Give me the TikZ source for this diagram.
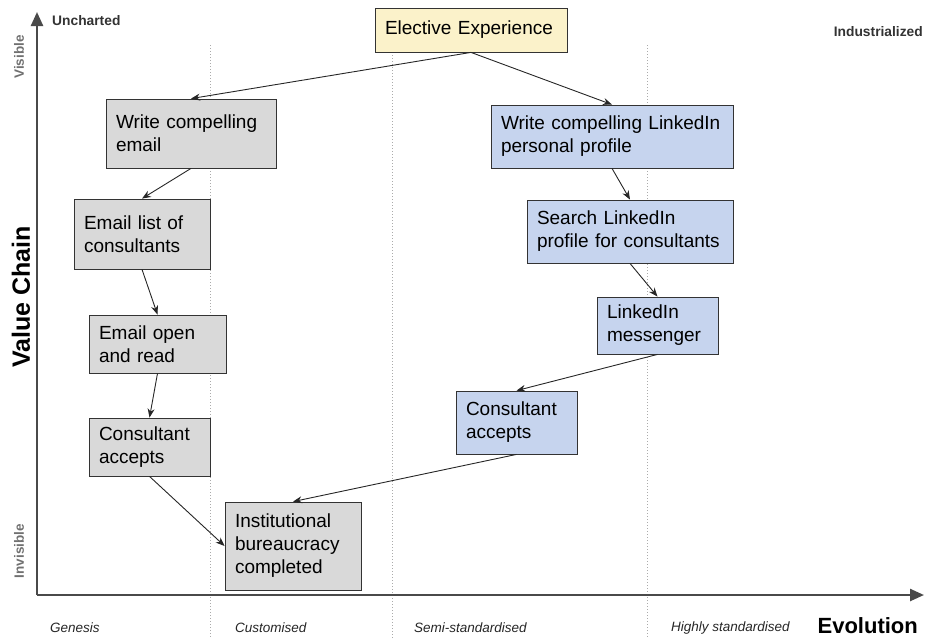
\documentclass[tikz,border=0pt]{standalone}
\usepackage{fontspec}
\setmainfont{Liberation Sans}
\usetikzlibrary{arrows.meta}
\definecolor{boxgrey}{HTML}{D9D9D9}
\definecolor{boxblue}{HTML}{C6D4EE}
\definecolor{boxyellow}{HTML}{FBF2CA}
\definecolor{axisgrey}{HTML}{4A4A4A}
\definecolor{dotgrey}{HTML}{ABABAB}
\definecolor{labgrey}{HTML}{707070}
\begin{document}
\begin{tikzpicture}[x=1pt,y=-1pt,
  box/.style={draw=black!80, line width=0.8pt, rectangle, align=left,
    inner xsep=10pt, inner ysep=0pt, font=\fontsize{19}{23}\selectfont},
  greybox/.style={box, fill=boxgrey},
  bluebox/.style={box, fill=boxblue},
  yellowbox/.style={box, fill=boxyellow},
  conn/.style={-{Stealth[length=9pt,width=7pt]}, line width=0.9pt, black!85},
  axis/.style={line width=2.4pt, axisgrey, -{Triangle[length=14pt,width=12pt]}},
  stage/.style={dotted, dotgrey, line width=1pt},
  corner/.style={font=\bfseries\fontsize{13.8}{15}\selectfont, text=black!80, inner sep=0pt},
  vislab/.style={font=\bfseries\fontsize{13.5}{15}\selectfont, text=labgrey, rotate=90, inner sep=0pt},
  evlab/.style={font=\itshape\fontsize{13.5}{15}\selectfont, text=black!85, inner sep=0pt, anchor=west},
]
\useasboundingbox (0,0) rectangle (928,638);

% stage separators
\draw[stage] (210,45) -- (210,638);
\draw[stage] (392,55) -- (392,638);
\draw[stage] (647,45) -- (647,638);

% axes
\coordinate (origin) at (37,595);
\coordinate (ytip) at (37,12);
\coordinate (xtip) at (924,595);
\draw[axis] (origin) -- (ytip);
\draw[axis] (origin) -- (xtip);

% axis labels
\node[corner, anchor=west] (uncharted) at (52,21) {Uncharted};
\node[corner, anchor=east] (industrial) at (923,32) {Industrialized};
\node[vislab] (visible) at (19,57) {Visible};
\node[vislab] (invisible) at (19,551) {Invisible};
\node[font=\bfseries\fontsize{25}{27}\selectfont, rotate=90, inner sep=0pt] (valuechain) at (21,297) {Value Chain};
\node[evlab] (genesis) at (50,628) {Genesis};
\node[evlab] (customised) at (235,628) {Customised};
\node[evlab] (semi) at (414,628) {Semi-standardised};
\node[evlab] (highly) at (671,628) {Highly standardised};
\node[font=\bfseries\fontsize{22}{24}\selectfont, anchor=east, inner sep=0pt] (evolution) at (918,626) {Evolution};

% nodes
\node[yellowbox, minimum width=192pt, minimum height=44pt, text width=172pt] (elective) at (471,30) {Elective Experience};

\node[greybox, minimum width=170pt, minimum height=69pt, text width=150pt] (email) at (191,133.5) {Write compelling\\email};
\node[greybox, minimum width=136pt, minimum height=70pt, text width=116pt] (list) at (142,234) {Email list of\\consultants};
\node[greybox, minimum width=137pt, minimum height=58pt, text width=117pt] (open) at (157.5,344) {Email open\\and read};
\node[greybox, minimum width=121pt, minimum height=58pt, text width=101pt] (accg) at (149.5,447) {Consultant\\accepts};
\node[greybox, minimum width=136pt, minimum height=88pt, text width=116pt] (inst) at (293,546) {Institutional\\bureaucracy\\completed};

\node[bluebox, minimum width=242pt, minimum height=63pt, text width=222pt] (li) at (612,136.5) {Write compelling LinkedIn\\personal profile};
\node[bluebox, minimum width=206pt, minimum height=63pt, text width=186pt] (search) at (630,231.5) {Search LinkedIn\\profile for consultants};
\node[bluebox, minimum width=121pt, minimum height=57pt, text width=101pt] (msg) at (657.5,325.5) {LinkedIn\\messenger};
\node[bluebox, minimum width=121pt, minimum height=63pt, text width=101pt] (accb) at (516.5,422.5) {Consultant\\accepts};

% connectors
\draw[conn] (elective.south) -- (email.north);
\draw[conn] (elective.south) -- (li.north);
\draw[conn] (email.south) -- (list.north);
\draw[conn] (list.south) -- (open.north);
\draw[conn] (open.south) -- (accg.north);
\draw[conn] (accg.south) -- (inst.west);
\draw[conn] (li.south) -- (search.north);
\draw[conn] (search.south) -- (msg.north);
\draw[conn] (msg.south) -- (accb.north);
\draw[conn] (accb.south) -- (inst.north);
\end{tikzpicture}
\end{document}
